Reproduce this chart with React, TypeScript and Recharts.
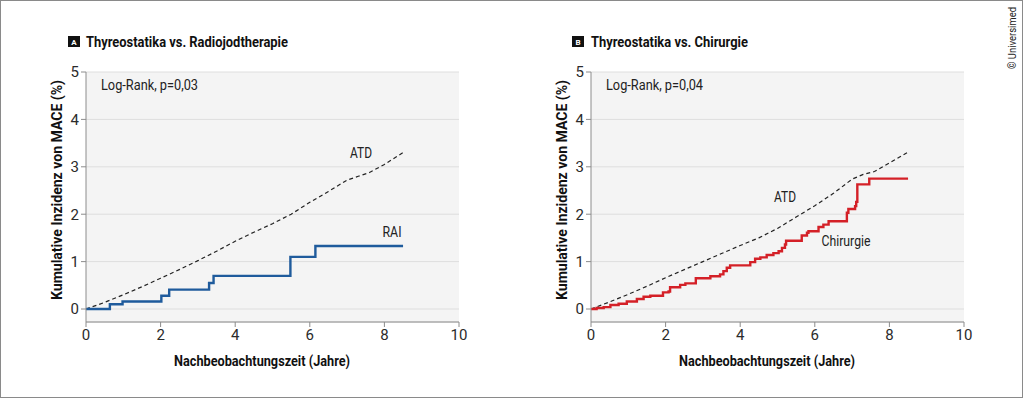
import { LineChart, Line, XAxis, YAxis, CartesianGrid } from "recharts";

const FONT = "Roboto, 'Noto Sans', sans-serif";

const xTicks = [0, 2, 4, 6, 8, 10];
const yTicks = [0, 1, 2, 3, 4, 5];

// ATD (dashed) curve, both panels
const atdTimeA = [0, 0.5, 1, 1.5, 2, 2.5, 3, 3.5, 4, 4.5, 5, 5.5, 6, 6.5, 7, 7.3, 7.6, 8, 8.5];
const atdValueA = [0, 0.14, 0.3, 0.47, 0.65, 0.83, 1.02, 1.22, 1.43, 1.62, 1.8, 2.0, 2.25, 2.48, 2.72, 2.8, 2.88, 3.05, 3.3];
const atdTimeB = [0, 0.5, 1, 1.5, 2, 2.5, 3, 3.5, 4, 4.5, 5, 5.5, 6, 6.5, 7, 7.3, 7.6, 8, 8.5];
const atdValueB = [0, 0.15, 0.31, 0.48, 0.66, 0.83, 1.0, 1.17, 1.34, 1.5, 1.7, 1.94, 2.18, 2.44, 2.74, 2.84, 2.9, 3.08, 3.31];

// RAI step curve (panel A)
const raiTime = [0, 0.64, 0.98, 2.02, 2.23, 3.3, 3.42, 5.48, 6.15, 8.5];
const raiValue = [0, 0.1, 0.16, 0.28, 0.41, 0.55, 0.7, 1.1, 1.33, 1.33];

// Chirurgie step curve (panel B)
const chirTime = [
  0, 0.15, 0.34, 0.52, 0.74, 0.96, 1.23, 1.41, 1.59, 1.93, 2.08, 2.12, 2.39, 2.53, 2.81,
  3.2, 3.46, 3.55, 3.64, 3.73, 4.13, 4.27, 4.4, 4.54, 4.71, 4.89, 5.03, 5.12, 5.2, 5.23,
  5.65, 5.79, 5.83, 6.1, 6.23, 6.37, 6.86, 6.9, 7.08, 7.11, 7.14, 7.46, 8.5,
];
const chirValue = [
  0, 0.02, 0.04, 0.085, 0.11, 0.16, 0.21, 0.26, 0.28, 0.35, 0.37, 0.46, 0.51, 0.54, 0.65,
  0.69, 0.73, 0.8, 0.87, 0.92, 0.92, 0.99, 1.06, 1.09, 1.14, 1.18, 1.22, 1.29, 1.36, 1.44,
  1.55, 1.61, 1.64, 1.73, 1.78, 1.85, 2.03, 2.11, 2.17, 2.26, 2.63, 2.75, 2.75,
];

const toPoints = (t: number[], v: number[]) => t.map((x, i) => ({ t: x, v: v[i] }));

const tickStyle = { fill: "#2b2b2b", fontSize: 15, fontFamily: FONT };

function Panel({
  left,
  atd,
  other,
  color,
}: {
  left: number;
  atd: { t: number; v: number }[];
  other: { t: number; v: number }[];
  color: string;
}) {
  return (
    <div style={{ position: "absolute", left, top: 0, width: 480, height: 399 }}>
      <LineChart width={480} height={399} margin={{ top: 72, right: 21, left: 56, bottom: 47 }}>
        <CartesianGrid vertical={false} fill="#f4f4f4" stroke="#dedede" />
        <XAxis
          dataKey="t"
          type="number"
          domain={[0, 10]}
          ticks={xTicks}
          height={30}
          stroke="#8c8c8c"
          tickSize={5}
          tick={tickStyle}
          allowDuplicatedCategory={false}
        />
        <YAxis
          dataKey="v"
          type="number"
          domain={[-0.274, 5]}
          ticks={yTicks}
          width={30}
          stroke="#8c8c8c"
          tickSize={5}
          tick={tickStyle}
        />
        <Line
          data={atd}
          dataKey="v"
          type="linear"
          stroke="#222"
          strokeWidth={1.2}
          strokeDasharray="4 3"
          dot={false}
          isAnimationActive={false}
        />
        <Line
          data={other}
          dataKey="v"
          type="stepAfter"
          stroke={color}
          strokeWidth={2.4}
          dot={false}
          isAnimationActive={false}
        />
      </LineChart>
    </div>
  );
}

type T = { x: number; y: number; w: number; s: string; bold?: boolean; size?: number; rot?: boolean; anchor?: string };

const texts: T[] = [
  { x: 86, y: 47, w: 202, s: "Thyreostatika vs. Radiojodtherapie", bold: true, anchor: "start" },
  { x: 591, y: 47, w: 157, s: "Thyreostatika vs. Chirurgie", bold: true, anchor: "start" },
  { x: 101, y: 90, w: 97, s: "Log-Rank, p=0,03", anchor: "start" },
  { x: 606, y: 90, w: 97, s: "Log-Rank, p=0,04", anchor: "start" },
  { x: 262, y: 366, w: 176, s: "Nachbeobachtungszeit (Jahre)", bold: true },
  { x: 767, y: 366, w: 176, s: "Nachbeobachtungszeit (Jahre)", bold: true },
  { x: 62, y: 190, w: 220, s: "Kumulative Inzidenz von MACE (%)", bold: true, rot: true },
  { x: 567, y: 190, w: 220, s: "Kumulative Inzidenz von MACE (%)", bold: true, rot: true },
  { x: 361, y: 158, w: 22, s: "ATD" },
  { x: 392, y: 237, w: 19, s: "RAI" },
  { x: 785, y: 202, w: 22, s: "ATD" },
  { x: 846, y: 246, w: 49, s: "Chirurgie" },
  { x: 1016, y: 38, w: 62, s: "© Universimed", size: 10, rot: true },
];

export default function App() {
  return (
    <div
      style={{
        position: "absolute",
        left: 0,
        top: 0,
        width: 1023,
        height: 398,
        boxSizing: "border-box",
        border: "1px solid #8a8a8a",
        background: "#fff",
        overflow: "hidden",
      }}
    >
      <div style={{ position: "absolute", left: -1, top: -1, width: 1024, height: 399 }}>
        <Panel
          left={0}
          atd={toPoints(atdTimeA, atdValueA)}
          other={toPoints(raiTime, raiValue)}
          color="#1f5b9c"
        />
        <Panel
          left={505}
          atd={toPoints(atdTimeB, atdValueB)}
          other={toPoints(chirTime, chirValue)}
          color="#d42027"
        />
        <svg
          width={1024}
          height={399}
          style={{ position: "absolute", left: 0, top: 0, pointerEvents: "none" }}
        >
          <rect x={68} y={36} width={12} height={11} fill="#111" />
          <text x={74} y={44.5} textAnchor="middle" fill="#fff" fontSize={8} fontWeight={700} fontFamily={FONT}>
            A
          </text>
          <rect x={572} y={36} width={12} height={11} fill="#111" />
          <text x={578} y={44.5} textAnchor="middle" fill="#fff" fontSize={8} fontWeight={700} fontFamily={FONT}>
            B
          </text>
          {texts.map((t, i) => (
            <text
              key={i}
              x={t.x}
              y={t.y}
              textAnchor={t.anchor || "middle"}
              textLength={t.w}
              lengthAdjust="spacingAndGlyphs"
              transform={t.rot ? `rotate(-90 ${t.x} ${t.y})` : undefined}
              fontFamily={FONT}
              fontSize={t.size || 15}
              fontWeight={t.bold ? 700 : 400}
              fill={t.bold ? "#111" : "#222"}
            >
              {t.s}
            </text>
          ))}
        </svg>
      </div>
    </div>
  );
}
